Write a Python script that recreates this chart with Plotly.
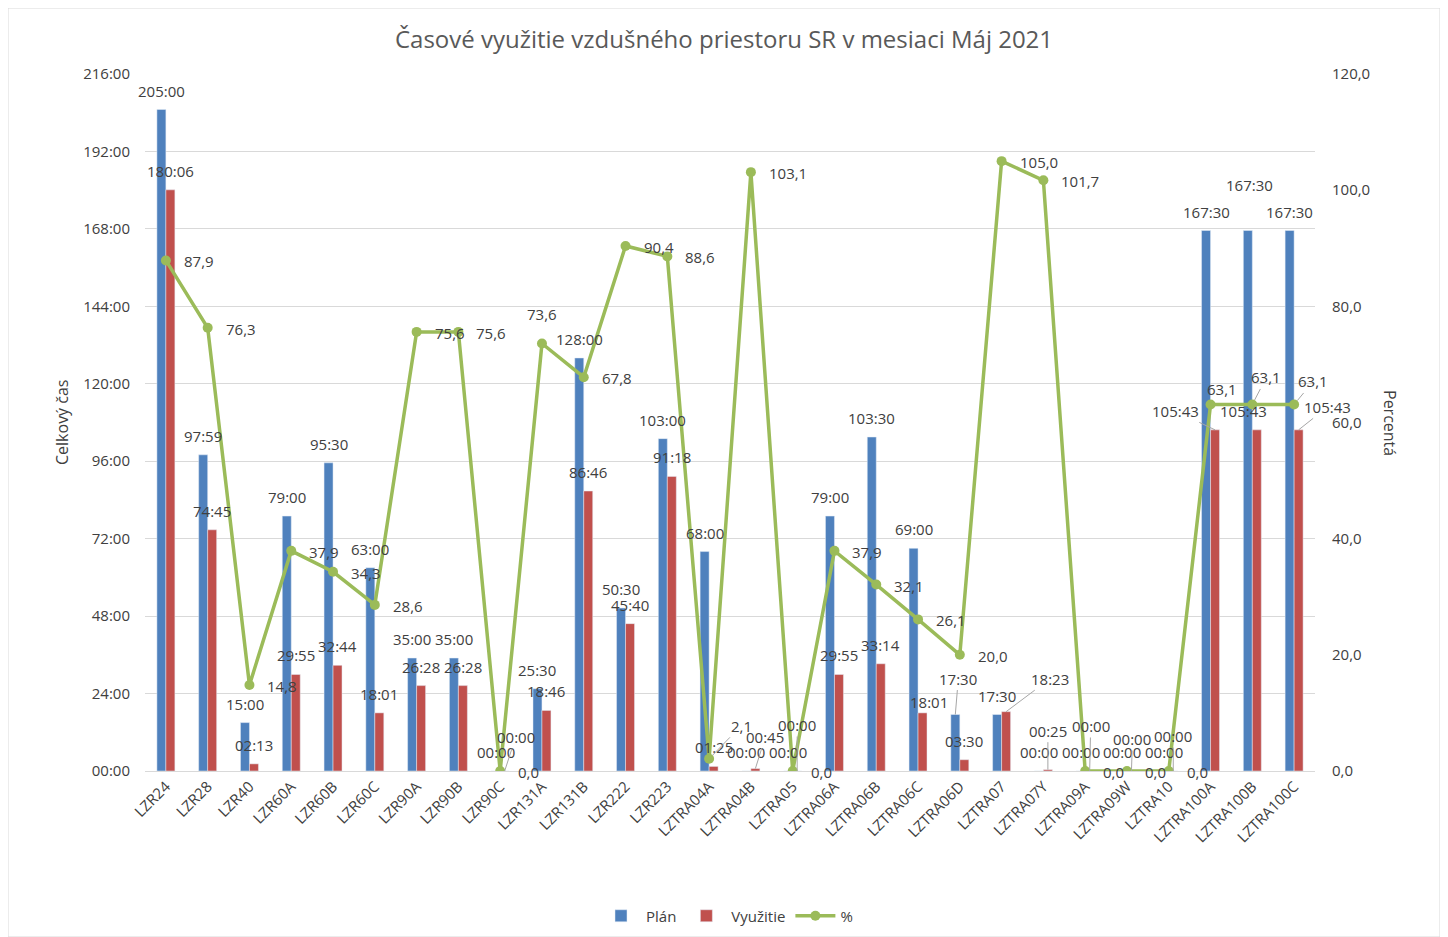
import plotly.graph_objects as go

categories = ["LZR24", "LZR28", "LZR40", "LZR60A", "LZR60B", "LZR60C", "LZR90A", "LZR90B",
              "LZR90C", "LZR131A", "LZR131B", "LZR222", "LZR223", "LZTRA04A", "LZTRA04B",
              "LZTRA05", "LZTRA06A", "LZTRA06B", "LZTRA06C", "LZTRA06D", "LZTRA07", "LZTRA07Y",
              "LZTRA09A", "LZTRA09W", "LZTRA10", "LZTRA100A", "LZTRA100B", "LZTRA100C"]

plan_time = ["205:00", "97:59", "15:00", "79:00", "95:30", "63:00", "35:00", "35:00",
             "00:00", "25:30", "128:00", "50:30", "103:00", "68:00", "00:00",
             "00:00", "79:00", "103:30", "69:00", "17:30", "17:30", "00:00",
             "00:00", "00:00", "00:00", "167:30", "167:30", "167:30"]

vyuzitie_time = ["180:06", "74:45", "02:13", "29:55", "32:44", "18:01", "26:28", "26:28",
                 "00:00", "18:46", "86:46", "45:40", "91:18", "01:25", "00:45",
                 "00:00", "29:55", "33:14", "18:01", "03:30", "18:23", "00:25",
                 "00:00", "00:00", "00:00", "105:43", "105:43", "105:43"]

percent = [87.9, 76.3, 14.8, 37.9, 34.3, 28.6, 75.6, 75.6, 0.0, 73.6, 67.8, 90.4, 88.6, 2.1,
           103.1, 0.0, 37.9, 32.1, 26.1, 20.0, 105.0, 101.7, 0.0, 0.0, 0.0, 63.1, 63.1, 63.1]

left_ticks = ["00:00", "24:00", "48:00", "72:00", "96:00", "120:00", "144:00", "168:00",
              "192:00", "216:00"]


def to_hours(s):
    h, m = s.split(":")
    return int(h) + int(m) / 60.0


plan_h = [to_hours(s) for s in plan_time]
vyu_h = [to_hours(s) for s in vyuzitie_time]
pct_text = [f"{v:.1f}".replace(".", ",") for v in percent]

# --- styling: manually moved data labels (screen px, relative to default spot; arrow = leader line)
plan_moved = {"LZTRA06D": (3, -17, True), "LZTRA100B": (2, -27, False)}
vyu_moved = {"LZR90C": (11, -15, True), "LZTRA04B": (10, -13, True), "LZTRA05": (0, -27, True),
             "LZTRA06C": (6, 8, False), "LZTRA07": (44, -14, True), "LZTRA07Y": (0, -20, True),
             "LZTRA09A": (1, -26, True), "LZTRA09W": (1, -13, True), "LZTRA10": (0, -16, True),
             "LZTRA100A": (-40, 0, True), "LZTRA100B": (-13, 0, False), "LZTRA100C": (29, -4, True)}
pct_moved = {"LZR131A": (0, -30, False), "LZTRA04A": (32, -33, True),
             "LZTRA100A": (11, -15, False), "LZTRA100B": (14, -27, True),
             "LZTRA100C": (19, -23, True)}

TXT = "#404040"
LEADER = "#a6a6a6"
FONT = "Open Sans"
FS = 15

# figure is placed 8px into the page; all pixel layout below is in figure coords
OFF = 8
W, H = 1440, 929
ML, MR, MT, MB = 137, 133, 66, 166
PW, PH = W - ML - MR, H - MT - MB
BAR_OFF = 4.5   # half bar width: bar centre offset from category centre
LBL_UP = 19     # label centre above bar top

fig = go.Figure()
fig.add_trace(go.Bar(x=categories, y=plan_h, name="Plán", marker_color="#4F81BD"))
fig.add_trace(go.Bar(x=categories, y=vyu_h, name="Využitie", marker_color="#C0504D"))
fig.add_trace(go.Scatter(x=categories, y=percent, name="%", yaxis="y2", mode="lines+markers",
                         line=dict(color="#9BBB59", width=3.5), marker=dict(size=10, color="#9BBB59")))

annotations = []


def bar_label(cat, val, txt, bar_dx, moved):
    dx, dy, arrow = moved.get(cat, (0, 0, False))
    base = dict(x=cat, y=val, xref="x", yref="y", text=txt,
                font=dict(size=FS, color=TXT, family=FONT))
    if arrow:
        base.update(showarrow=True, arrowhead=0, arrowwidth=1, arrowcolor=LEADER,
                    xshift=bar_dx, ax=dx, ay=-LBL_UP + dy, standoff=0)
    else:
        base.update(showarrow=False, xshift=bar_dx + dx, yshift=LBL_UP - dy)
    annotations.append(base)


for c, v, t in zip(categories, plan_h, plan_time):
    bar_label(c, v, t, -BAR_OFF, plan_moved)
for c, v, t in zip(categories, vyu_h, vyuzitie_time):
    bar_label(c, v, t, BAR_OFF, vyu_moved)

for c, v, t in zip(categories, percent, pct_text):
    base = dict(x=c, y=v, xref="x", yref="y2", text=t,
                font=dict(size=FS, color=TXT, family=FONT))
    if c in pct_moved:
        dx, dy, arrow = pct_moved[c]
        if arrow:
            base.update(showarrow=True, arrowhead=0, arrowwidth=1, arrowcolor=LEADER,
                        ax=dx, ay=dy, standoff=5)
        else:
            base.update(showarrow=False, xshift=dx, yshift=-dy)
    else:
        base.update(showarrow=False, xanchor="left", xshift=16, yshift=-1)
    annotations.append(base)

annotations += [
    dict(text="Percentá", textangle=90, xanchor="center", yanchor="middle",
         x=(1390 - OFF - ML) / PW, xref="paper",
         y=(H - MB - (423 - OFF)) / PH, yref="paper",
         showarrow=False, font=dict(size=16, color=TXT)),
    dict(text="Celkový čas", textangle=-90, xanchor="center", yanchor="middle",
         x=(62 - OFF - ML) / PW, xref="paper",
         y=(H - MB - (423 - OFF)) / PH, yref="paper",
         showarrow=False, font=dict(size=16, color=TXT)),
]

fig.update_layout(
    width=W, height=H,
    paper_bgcolor="white", plot_bgcolor="white",
    font=dict(family=FONT, size=FS, color=TXT),
    separators=", ",
    title=dict(text="Časové využitie vzdušného priestoru SR v mesiaci Máj 2021",
               x=(724 - OFF) / W, xanchor="center", y=1 - (40 - OFF) / H, yanchor="middle",
               font=dict(size=24, color="#595959", family=FONT)),
    margin=dict(l=ML, r=MR, t=MT, b=MB, autoexpand=False),
    barmode="group", bargap=0.57, bargroupgap=0,
    xaxis=dict(tickangle=-45, tickfont=dict(size=FS, color=TXT), showgrid=False,
               range=[-0.5, len(categories) - 0.5], automargin=False,
               showline=True, linecolor="#d9d9d9", ticks=""),
    yaxis=dict(range=[0, 216], tickvals=[i * 24 for i in range(10)], ticktext=left_ticks,
               showgrid=True, gridcolor="#d9d9d9", zeroline=False, automargin=False,
               ticklabelstandoff=14, tickfont=dict(size=FS, color=TXT)),
    yaxis2=dict(range=[0, 120], overlaying="y", side="right", tickvals=[0, 20, 40, 60, 80, 100, 120],
                tickformat=".1f", showgrid=False, zeroline=False, automargin=False,
                ticklabelstandoff=16, tickfont=dict(size=FS, color=TXT)),
    legend=dict(orientation="h", x=(727 - OFF - ML) / PW, xanchor="center",
                y=-(916 - OFF - (MT + PH)) / PH, yanchor="middle", itemwidth=40,
                font=dict(size=FS, color=TXT)),
    annotations=annotations,
)

fig.add_shape(type="rect", xref="paper", yref="paper",
              x0=(0 - ML) / PW, x1=(1432 - ML) / PW,
              y0=-MB / PH, y1=(H - MB) / PH,
              line=dict(color="#d9d9d9", width=1), fillcolor="rgba(0,0,0,0)", layer="below")

fig.write_html("out.html")
